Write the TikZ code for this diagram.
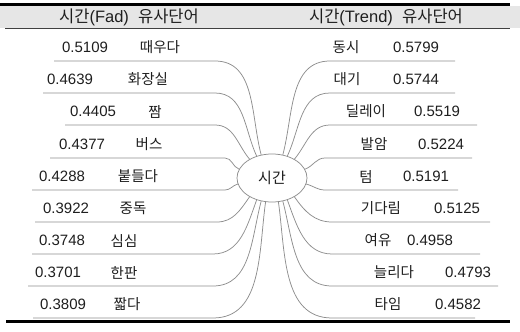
\documentclass[tikz,border=0pt]{standalone}
\usepackage{fontspec}
\setmainfont{Liberation Sans}
\newfontfamily\kr{Noto Sans CJK KR}
\usetikzlibrary{shapes.geometric}
\definecolor{conn}{HTML}{8E8E8E}
\definecolor{band}{HTML}{E6E6E6}
\definecolor{txt}{HTML}{1E1E1E}
\begin{document}
\begin{tikzpicture}[x=1pt,y=1pt,
  conline/.style={draw=conn,line width=0.75pt},
  numtxt/.style={inner sep=0pt,text=txt,font=\fontsize{15}{17}\selectfont},
  wordtxt/.style={inner sep=0pt,text=txt,font=\kr\fontsize{14.5}{17}\selectfont},
  hubnode/.style={ellipse,draw=conn,line width=0.75pt,fill=white,minimum width=70pt,minimum height=48pt,inner sep=0pt,text=txt,font=\kr\fontsize{15}{17}\selectfont},
  headtxt/.style={inner sep=0pt,text=txt,font=\fontsize{16.5}{18}\selectfont},
  rulethick/.style={line width=3pt,draw=black},
  rulethin/.style={line width=0.8pt,draw=black!75}]
\useasboundingbox (0,0) rectangle (520,332);
% header band
\fill[band] (0,304) rectangle (520,325.5);
\draw[rulethick] (0,327) -- (510,327);
\draw[rulethin] (5,303.5) -- (510,303.5);
\draw[rulethick] (6,10) -- (510,10);
\node[headtxt] (hl) at (129,315) {{\kr 시간}(Fad)\ \ {\kr 유사단어}};
\node[headtxt] (hr) at (386,315) {{\kr 시간}(Trend)\ \ {\kr 유사단어}};
% hub
\node[hubnode] (c) at (272,154) {시간};
% left side
\foreach \i/\ly/\ox/\bx/\ang/\outa/\num/\word/\nx/\wx in {
  0/271/54/215/115/105/0.5109/때우다/85/160,
  1/239/43/215/125/115/0.4639/화장실/70/148,
  2/207/65/215/140/130/0.4405/짬/93/155,
  3/174/50/225/165/160/0.4377/버스/82/149,
  4/142/32/225/190/195/0.4288/붙들다/62/138,
  5/110/35/217/220/235/0.3922/중독/66/133,
  6/78/32/213/235/250/0.3748/심심/62/124,
  7/46/28/213/245/255/0.3701/한판/58/124,
  8/14/33/213/255/262/0.3809/짧다/63/127}{
  \coordinate (lb\i) at (\bx,\ly);
  \coordinate (lo\i) at (\ox,\ly);
  \draw[conline] (c.\ang) to[out=\outa,in=0] (lb\i) -- (lo\i);
  \node[numtxt] (ln\i) at (\nx,\ly+13.5) {\num};
  \node[wordtxt] (lw\i) at (\wx,\ly+13.5) {\word};
}
% right side
\foreach \i/\ly/\ox/\bx/\ang/\outa/\num/\word/\nx/\wx in {
  0/271/455/330/65/75/0.5799/동시/416/346,
  1/239/455/330/55/65/0.5744/대기/416/347,
  2/207/477/330/40/50/0.5519/딜레이/437/366,
  3/174/472/325/15/20/0.5224/발암/441/374,
  4/142/458/325/-10/-15/0.5191/텀/426/366,
  5/110/490/332/-40/-55/0.5125/기다림/457/381,
  6/78/480/332/-55/-70/0.4958/여유/430/378,
  7/46/498/332/-65/-75/0.4793/늘리다/468/394,
  8/14/475/332/-75/-82/0.4582/타임/458/388}{
  \coordinate (rb\i) at (\bx,\ly);
  \coordinate (ro\i) at (\ox,\ly);
  \draw[conline] (c.\ang) to[out=\outa,in=180] (rb\i) -- (ro\i);
  \node[numtxt] (rn\i) at (\nx,\ly+13.5) {\num};
  \node[wordtxt] (rw\i) at (\wx,\ly+13.5) {\word};
}
\end{tikzpicture}
\end{document}
